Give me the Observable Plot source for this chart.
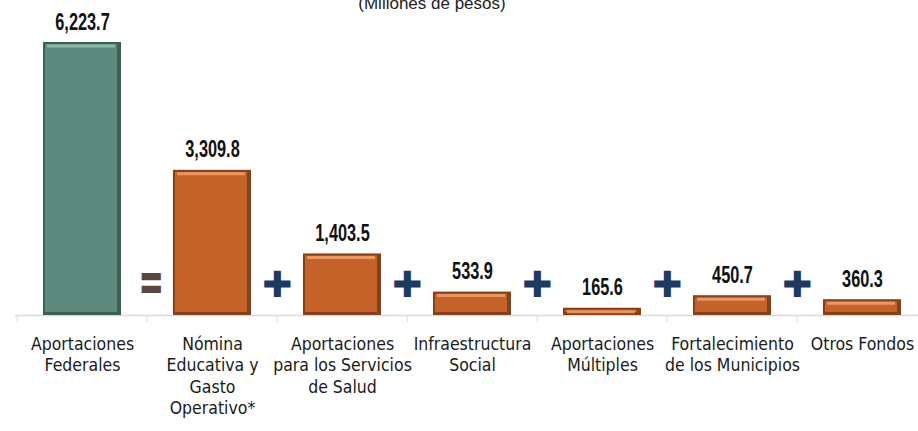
<!DOCTYPE html>
<html>
<head>
<meta charset="utf-8">
<script src="https://cdn.jsdelivr.net/npm/d3@7"></script>
<script src="https://cdn.jsdelivr.net/npm/@observablehq/plot@0.6"></script>
<style>
  html, body { margin: 0; padding: 0; background: #fff; }
  #chart svg { display: block; overflow: hidden; }
</style>
</head>
<body>
<div id="chart"></div>
<script>
const categories = [
  "Aportaciones Federales",
  "Nómina Educativa y Gasto Operativo*",
  "Aportaciones para los Servicios de Salud",
  "Infraestructura Social",
  "Aportaciones Múltiples",
  "Fortalecimiento de los Municipios",
  "Otros Fondos"
];
const tickLabels = [
  "Aportaciones\nFederales",
  "Nómina\nEducativa y\nGasto\nOperativo*",
  "Aportaciones\npara los Servicios\nde Salud",
  "Infraestructura\nSocial",
  "Aportaciones\nMúltiples",
  "Fortalecimiento\nde los Municipios",
  "Otros Fondos"
];
const values = [6223.7, 3309.8, 1403.5, 533.9, 165.6, 450.7, 360.3];
const kinds = ["total", "part", "part", "part", "part", "part", "part"];
const operators = ["=", "+", "+", "+", "+", "+"];
const subtitle = "(Millones de pesos)";

const data = categories.map((c, i) => ({category: c, value: values[i], kind: kinds[i]}));
const opData = operators.map((o, i) => ({category: categories[i + 1], op: o}));
const labelMap = new Map(categories.map((c, i) => [c, tickLabels[i]]));
const fmt = d3.format(",.1f");
const valueTexts = new Set(values.map(fmt));

const W = 918, H = 431;
const xRange = [15.7, 929];
const step = (xRange[1] - xRange[0]) / categories.length;

const edge = d => d.kind === "total" ? "#3e5f56" : "#86401a";
const main = d => d.kind === "total" ? "#5e8a7e" : "#c4622a";
const light = d => d.kind === "total" ? "#96bfb2" : "#f0a06a";

const chart = Plot.plot({
  width: W,
  height: H,
  marginTop: 42,
  marginBottom: 116,
  marginLeft: 15,
  marginRight: 0,
  x: {domain: categories, range: xRange, paddingInner: 0.4, paddingOuter: 0.2, axis: null},
  y: {domain: [0, d3.max(values)], axis: null},
  marks: [
    Plot.ruleY([0], {stroke: "#d9d9d9", strokeWidth: 1.5}),
    Plot.axisX({tickSize: 7, dx: -step / 2, stroke: "#d9d9d9", tickFormat: () => "", label: null}),
    Plot.axisX({
      tickSize: 0, tickPadding: 19, label: null,
      tickFormat: d => labelMap.get(d),
      fontSize: 17.5, lineHeight: 1.23,
      fontFamily: "'DejaVu Sans Condensed', sans-serif",
      fill: "#1a1a1a"
    }),
    Plot.barY(data, {x: "category", y: "value", fill: edge}),
    Plot.barY(data, {x: "category", y: "value", fill: main, insetLeft: 2, insetRight: 4, insetTop: 2, insetBottom: 3}),
    Plot.tickY(data, {x: "category", y: "value", stroke: light, strokeWidth: 3, dy: 3.5, insetLeft: 4, insetRight: 6, strokeOpacity: 0.85}),
    Plot.text(data, {
      x: "category", y: "value", text: d => fmt(d.value),
      lineAnchor: "bottom", dy: -13,
      fontSize: 23, fontWeight: "bold",
      fontFamily: "'Liberation Sans', Arial, sans-serif",
      fill: "#111"
    }),
    Plot.text(opData.filter(d => d.op === "+"), {
      x: "category", frameAnchor: "bottom",
      dx: -step / 2, dy: -30, lineAnchor: "middle",
      text: () => "\u271A", fontSize: 36, fill: "#1f3a60",
      fontFamily: "'DejaVu Sans', sans-serif"
    }),
    Plot.text(opData.filter(d => d.op === "="), {
      x: "category", frameAnchor: "bottom",
      dx: -step / 2 + 4, dy: -31, lineAnchor: "middle",
      text: () => "\u3013", fontSize: 24, fill: "#5a4840",
      fontFamily: "'Noto Sans CJK SC', sans-serif"
    }),
    Plot.text([subtitle], {
      frameAnchor: "top", dx: -35, dy: -34, lineAnchor: "bottom",
      text: d => d, fontSize: 17, fill: "#222",
      fontFamily: "'Liberation Sans', Arial, sans-serif"
    })
  ]
});

// condense the value labels horizontally (narrow bold look)
chart.querySelectorAll("text").forEach(t => {
  if (!valueTexts.has(t.textContent.trim())) return;
  const tr = t.getAttribute("transform");
  const x = +t.getAttribute("x") || 0, y = +t.getAttribute("y") || 0;
  t.removeAttribute("x"); t.removeAttribute("y");
  t.setAttribute("transform", `${tr ? tr + " " : ""}translate(${x},${y}) scale(0.71,1)`);
});
document.getElementById("chart").appendChild(chart);
</script>
</body>
</html>
